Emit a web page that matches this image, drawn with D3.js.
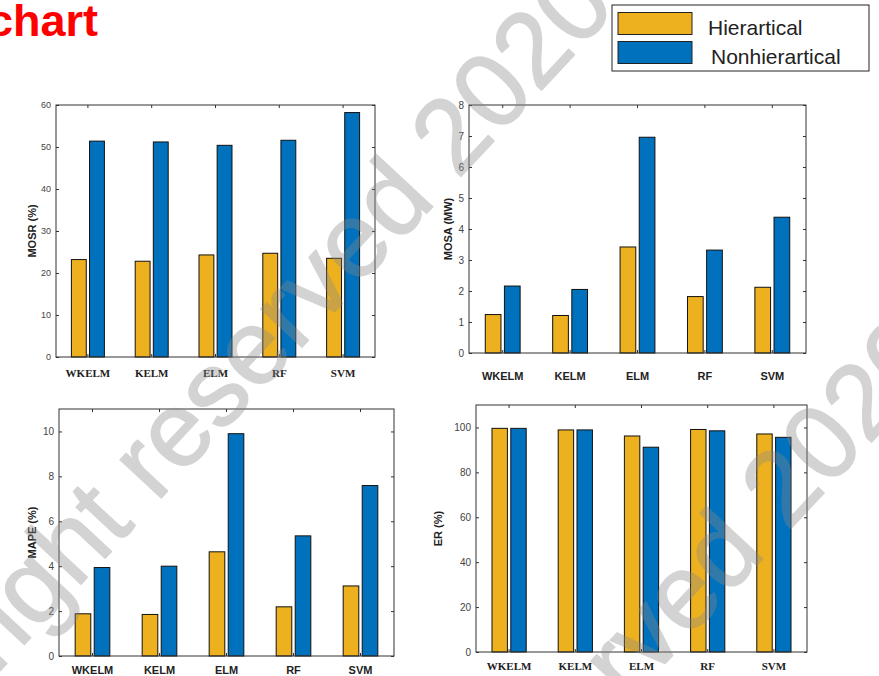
<!DOCTYPE html>
<html>
<head>
<meta charset="utf-8">
<script src="https://cdn.jsdelivr.net/npm/d3@7"></script>
<style>
  body { margin: 0; background: #fff; }
  svg { display: block; }
</style>
</head>
<body>
<svg id="chart_svg" width="879" height="676"></svg>
<script>
const categories = ["WKELM", "KELM", "ELM", "RF", "SVM"];
const series = ["Hierartical", "Nonhierartical"];

const mosrH = [23.2, 22.8, 24.3, 24.7, 23.5];
const mosrN = [51.4, 51.2, 50.4, 51.6, 58.2];
const mosaH = [1.24, 1.21, 3.42, 1.82, 2.12];
const mosaN = [2.16, 2.05, 6.96, 3.32, 4.38];
const mapeH = [1.88, 1.85, 4.64, 2.19, 3.12];
const mapeN = [3.94, 4.00, 9.90, 5.35, 7.59];
const erH = [99.6, 98.9, 96.2, 99.1, 97.1];
const erN = [99.6, 98.9, 91.2, 98.5, 95.6];

const mosrTicks = [0, 10, 20, 30, 40, 50, 60];
const mosaTicks = [0, 1, 2, 3, 4, 5, 6, 7, 8];
const mapeTicks = [0, 2, 4, 6, 8, 10];
const erTicks = [0, 20, 40, 60, 80, 100];

const colors = ["#EDB120", "#0072BD"];
const sans = "'Liberation Sans', Arial, sans-serif";
const serif = "'Liberation Serif', 'Times New Roman', serif";

// layout of the four panels
const panels = [
  { label: "MOSR (%)", h: mosrH, n: mosrN, ticks: mosrTicks, ymax: 60,
    x0: 56, x1: 375, y0: 105, y1: 357, labX: 32, catY: 377, catFont: serif, tickSize: 9 },
  { label: "MOSA (MW)", h: mosaH, n: mosaN, ticks: mosaTicks, ymax: 8,
    x0: 469, x1: 806, y0: 105, y1: 353, labX: 448, catY: 380, catFont: sans, tickSize: 10 },
  { label: "MAPE (%)", h: mapeH, n: mapeN, ticks: mapeTicks, ymax: 11,
    x0: 59, x1: 394, y0: 409, y1: 656, labX: 32, catY: 674, catFont: sans, tickSize: 10 },
  { label: "ER (%)", h: erH, n: erN, ticks: erTicks, ymax: 110,
    x0: 476, x1: 807, y0: 405, y1: 652, labX: 438, catY: 670, catFont: serif, tickSize: 10 }
];

const svg = d3.select("#chart_svg");

panels.forEach(function(p) {
  let x = d3.scaleBand().domain(categories).range([p.x0, p.x1]).padding(0);
  let xs = d3.scaleBand().domain(series).range([0, x.bandwidth()])
    .paddingInner(0.18).paddingOuter(0.85);
  let y = d3.scaleLinear().domain([0, p.ymax]).range([p.y1, p.y0]);

  let g = svg.append("g");

  let rows = categories.map(function(c, i) {
    return { cat: c, vals: [p.h[i], p.n[i]] };
  });

  g.selectAll(".grp")
    .data(rows)
    .join("g")
      .attr("class", "grp")
      .attr("transform", function(d) { return "translate(" + x(d.cat) + ",0)"; })
    .selectAll("rect")
    .data(function(d) { return d.vals.map(function(v, j) { return { s: series[j], v: v, j: j }; }); })
    .join("rect")
      .attr("x", function(d) { return xs(d.s); })
      .attr("y", function(d) { return y(d.v); })
      .attr("width", xs.bandwidth())
      .attr("height", function(d) { return y(0) - y(d.v); })
      .attr("fill", function(d) { return colors[d.j]; })
      .attr("stroke", "#111")
      .attr("stroke-width", 1);

  // left axis, ticks inward
  let left = g.append("g")
    .attr("transform", "translate(" + p.x0 + ",0)")
    .call(d3.axisLeft(y).tickValues(p.ticks).tickSizeInner(-3).tickSizeOuter(0).tickPadding(5));
  left.select(".domain").remove();
  left.selectAll("line").attr("stroke", "#333");
  left.selectAll("text").attr("font-family", sans).attr("font-size", p.tickSize).attr("fill", "#444");

  // right axis ticks
  let right = g.append("g")
    .attr("transform", "translate(" + p.x1 + ",0)")
    .call(d3.axisRight(y).tickValues(p.ticks).tickSizeInner(-3).tickSizeOuter(0).tickFormat(""));
  right.select(".domain").remove();
  right.selectAll("line").attr("stroke", "#333");

  // top and bottom ticks at category centres
  let xc = function(c) { return x(c) + x.bandwidth() / 2; };
  g.selectAll(".ttick")
    .data(categories)
    .join("line")
      .attr("class", "ttick")
      .attr("x1", xc).attr("x2", xc)
      .attr("y1", p.y0).attr("y2", p.y0 + 3)
      .attr("stroke", "#333");
  g.selectAll(".btick")
    .data(categories)
    .join("line")
      .attr("class", "btick")
      .attr("x1", xc).attr("x2", xc)
      .attr("y1", p.y1).attr("y2", p.y1 - 3)
      .attr("stroke", "#333");

  // box
  g.append("rect")
    .attr("x", p.x0).attr("y", p.y0)
    .attr("width", p.x1 - p.x0).attr("height", p.y1 - p.y0)
    .attr("fill", "none").attr("stroke", "#333").attr("stroke-width", 1);

  // category labels
  g.selectAll(".cat")
    .data(categories)
    .join("text")
      .attr("class", "cat")
      .attr("x", xc)
      .attr("y", p.catY)
      .attr("text-anchor", "middle")
      .attr("font-family", p.catFont)
      .attr("font-weight", "bold")
      .attr("font-size", 11)
      .attr("fill", "#222")
      .text(function(d) { return d; });

  // y label
  g.append("text")
    .attr("transform", "translate(" + p.labX + "," + ((p.y0 + p.y1) / 2) + ") rotate(-90)")
    .attr("text-anchor", "middle")
    .attr("dy", "0.35em")
    .attr("font-family", sans)
    .attr("font-weight", "bold")
    .attr("font-size", 11)
    .attr("fill", "#222")
    .text(p.label);
});

// title (cut off at the left edge like the source)
svg.append("text")
  .attr("x", 98).attr("y", 36)
  .attr("text-anchor", "end")
  .attr("font-family", sans)
  .attr("font-weight", "bold")
  .attr("font-size", 45)
  .attr("fill", "#ff0000")
  .text("chart");

// legend
let legend = svg.append("g");
legend.append("rect")
  .attr("x", 612).attr("y", 5).attr("width", 257).attr("height", 66)
  .attr("fill", "#fff").attr("stroke", "#222").attr("stroke-width", 1);
series.forEach(function(s, i) {
  legend.append("rect")
    .attr("x", 618).attr("y", 12.5 + i * 29).attr("width", 74).attr("height", 22)
    .attr("fill", colors[i]).attr("stroke", "#222").attr("stroke-width", 1);
  legend.append("text")
    .attr("x", i == 0 ? 708 : 711).attr("y", 34.5 + i * 29)
    .attr("font-family", sans)
    .attr("font-size", 21)
    .attr("fill", "#222")
    .text(s);
});

// watermark
const wmText = "Copyright reserved 2020";
const wmSize = 106;
let wm = svg.append("g").attr("opacity", 0.36);
[[510, 68], [840, 420]].forEach(function(c) {
  wm.append("text")
    .attr("transform", "translate(" + c[0] + "," + c[1] + ") rotate(-47)")
    .attr("x", -9.837 * wmSize)
    .attr("y", 0.36 * wmSize)
    .attr("font-family", sans)
    .attr("font-size", wmSize)
    .attr("fill", "#888")
    .attr("stroke", "#888")
    .attr("stroke-width", 1.5)
    .attr("stroke-linejoin", "round")
    .text(wmText);
});
</script>
</body>
</html>
